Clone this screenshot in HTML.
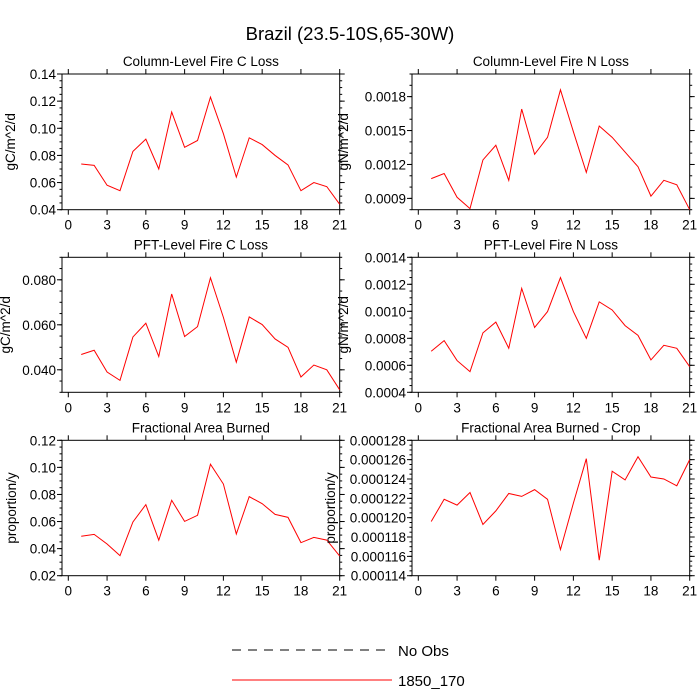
<!DOCTYPE html>
<html><head><meta charset="utf-8"><style>
html,body{margin:0;padding:0;background:#fff}
svg{display:block;font-family:"Liberation Sans",sans-serif}
</style></head><body>
<svg id="chart" width="700" height="700" viewBox="0 0 700 700" xmlns="http://www.w3.org/2000/svg">
<text x="350" y="40" font-size="18.5" text-anchor="middle">Brazil (23.5-10S,65-30W)</text>
<g>
<line x1="232" y1="650" x2="390" y2="650" stroke="#000" stroke-width="1" stroke-dasharray="9,7"/>
<text x="398" y="656" font-size="15">No Obs</text>
<line x1="232" y1="680" x2="392" y2="680" stroke="#ff0000" stroke-width="1"/>
<text x="398" y="686" font-size="15">1850_170</text>
</g>
</svg>
<script>
const xValues=[1,2,3,4,5,6,7,8,9,10,11,12,13,14,15,16,17,18,19,20,21];
const xTicks=[0,3,6,9,12,15,18,21];
const colFireC=[0.0737,0.0727,0.058,0.054,0.083,0.092,0.070,0.112,0.086,0.091,0.123,0.096,0.064,0.093,0.088,0.080,0.073,0.054,0.060,0.057,0.044];
const colFireN=[0.001075,0.00112,0.00091,0.00081,0.00124,0.00137,0.00106,0.00169,0.00129,0.00144,0.00186,0.00149,0.00113,0.00154,0.00144,0.00131,0.00118,0.00092,0.00106,0.00102,0.0008];
const pftFireC=[0.0468,0.0487,0.039,0.0353,0.0546,0.0607,0.0459,0.0737,0.0548,0.0592,0.0809,0.0633,0.0434,0.0635,0.0601,0.0537,0.05,0.0368,0.0421,0.040,0.0311];
const pftFireN=[0.000704,0.000783,0.000635,0.000553,0.00084,0.00092,0.000726,0.00117,0.00088,0.000998,0.00125,0.000998,0.0008,0.00107,0.00101,0.000894,0.000822,0.00064,0.000748,0.000726,0.00059];
const fracBurned=[0.0491,0.0505,0.0434,0.0348,0.0597,0.0725,0.0462,0.0757,0.0601,0.0646,0.1023,0.0877,0.0508,0.0784,0.0732,0.0653,0.0631,0.0444,0.0483,0.0463,0.0345];
const fracBurnedCrop=[0.0001196,0.0001219,0.0001213,0.0001226,0.0001193,0.0001207,0.0001225,0.0001222,0.0001229,0.0001219,0.0001167,0.0001215,0.0001261,0.0001156,0.0001248,0.0001239,0.0001263,0.0001242,0.000124,0.0001233,0.000126];
const panelTitles=["Column-Level Fire C Loss","Column-Level Fire N Loss","PFT-Level Fire C Loss","PFT-Level Fire N Loss","Fractional Area Burned","Fractional Area Burned - Crop"];
const yLabels=["gC/m^2/d","gN/m^2/d","gC/m^2/d","gN/m^2/d","proportion/y","proportion/y"];
const yMins=[0.04,0.0008,0.03,0.0004,0.02,0.000114];
const yMaxs=[0.14,0.002,0.09,0.0014,0.12,0.000128];
const yMajor=[0.02,0.0003,0.02,0.0002,0.02,0.000002];
const yMinor=[0.005,0.0001,0.005,0.00005,0.005,0.0000005];
const yFirst=[0.04,0.0009,0.04,0.0004,0.02,0.000114];
const yDec=[2,4,3,4,2,6];
const series=[colFireC,colFireN,pftFireC,pftFireN,fracBurned,fracBurnedCrop];

const svg=document.getElementById('chart');
const NS='http://www.w3.org/2000/svg';
function mk(tag,attrs,parent){const e=document.createElementNS(NS,tag);for(const k in attrs)e.setAttribute(k,attrs[k]);parent.appendChild(e);return e;}
const cols=[{fl:62,x0:68.3,x21:339.7},{fl:412,x0:418.3,x21:689.7}];
const rows=[{t:74,b:209.7},{t:257.3,b:392.3},{t:440.3,b:575.7}];
const labelOff=[52,69,57,69,51,82];
for(let p=0;p<6;p++){
  const c=cols[p%2],r=rows[Math.floor(p/2)];
  const g=mk('g',{},svg);
  
  
  const xs=v=>c.x0+(v/21)*(c.x21-c.x0);
  const ys=v=>r.b-(v-yMins[p])/(yMaxs[p]-yMins[p])*(r.b-r.t);
  const fr=mk('rect',{x:c.fl,y:r.t,width:c.x21-c.fl,height:r.b-r.t,fill:'none',stroke:'#000','stroke-width':1},g);
  
  
  const tt=mk('text',{x:(c.fl+c.x21)/2,y:r.t-8,'font-size':13.5,'text-anchor':'middle'},g);
  tt.textContent=panelTitles[p];
  
  
  const yl=mk('text',{x:0,y:0,'font-size':13.5,'text-anchor':'middle',transform:`translate(${c.fl-labelOff[p]+5},${(r.t+r.b)/2}) rotate(-90)`},g);
  yl.textContent=yLabels[p];
  
  
  xTicks.forEach(t=>{
    const x=xs(t);
    mk('line',{x1:x,y1:r.b,x2:x,y2:r.b+5,stroke:'#000'},g);
    mk('line',{x1:x,y1:r.t,x2:x,y2:r.t-5,stroke:'#000'},g);
    const tl=mk('text',{x:x,y:r.b+20,'font-size':13.5,'text-anchor':'middle'},g);
    tl.textContent=t;
    
    
  });
  const nMin=Math.round((yMaxs[p]-yMins[p])/yMinor[p]);
  for(let i=0;i<=nMin;i++){
    const v=yMins[p]+i*yMinor[p];const y=ys(v);
    mk('line',{x1:c.fl,y1:y,x2:c.fl-2.5,y2:y,stroke:'#000'},g);
    mk('line',{x1:c.x21,y1:y,x2:c.x21+2.5,y2:y,stroke:'#000'},g);
  }
  for(let v=yFirst[p];v<=yMaxs[p]+yMajor[p]*1e-6;v+=yMajor[p]){
    const y=ys(v);
    mk('line',{x1:c.fl,y1:y,x2:c.fl-5,y2:y,stroke:'#000'},g);
    mk('line',{x1:c.x21,y1:y,x2:c.x21+5,y2:y,stroke:'#000'},g);
    const tl=mk('text',{x:c.fl-6,y:y+5,'font-size':13.5,'text-anchor':'end'},g);
    tl.textContent=v.toFixed(yDec[p]);
    
    
  }
  const pts=series[p].map((v,i)=>xs(xValues[i]).toFixed(2)+','+ys(v).toFixed(2)).join(' ');
  const pl=mk('polyline',{points:pts,fill:'none',stroke:'#ff0000','stroke-width':1},g);
  
  
}
</script>
</body></html>
